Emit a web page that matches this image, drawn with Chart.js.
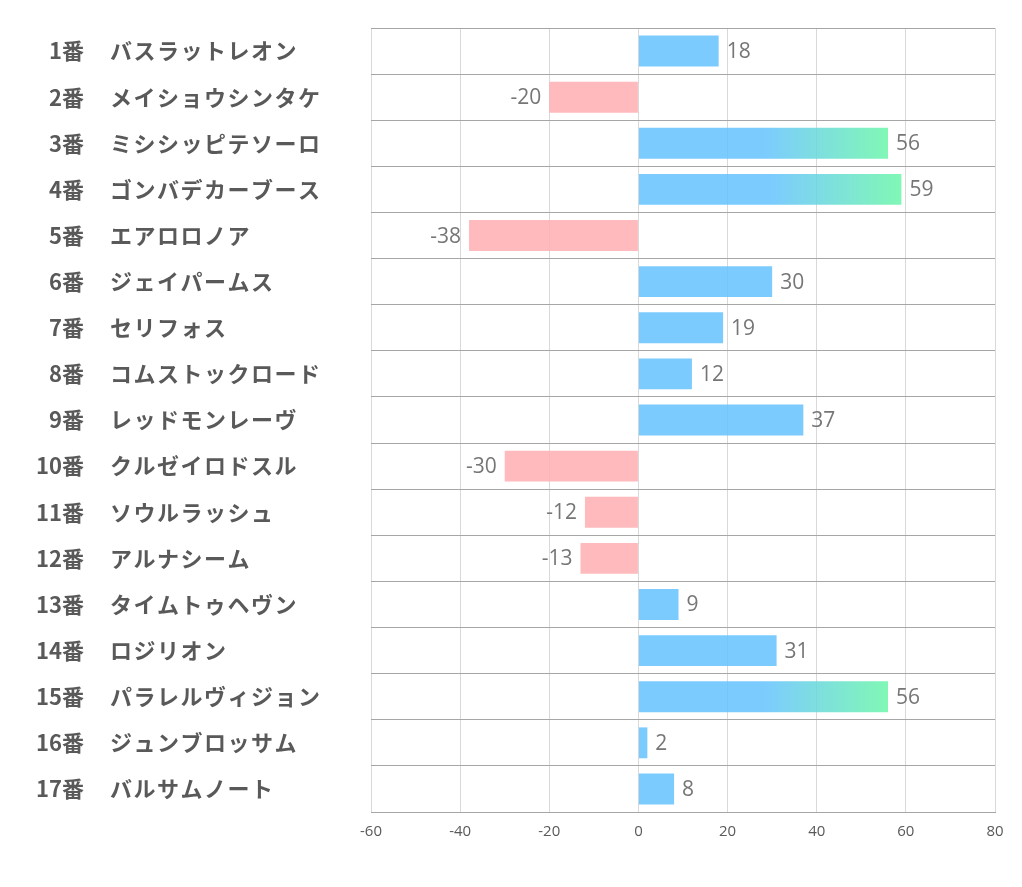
<!DOCTYPE html>
<html lang="ja">
<head>
<meta charset="utf-8">
<title>Horse chart</title>
<script src="https://cdn.jsdelivr.net/npm/chart.js@4/dist/chart.umd.min.js"></script>
<style>
  body { margin: 0; background: #fff; }
  #wrap { width: 1022px; height: 887px; position: relative; }
</style>
</head>
<body>
<div id="wrap"><canvas id="barChart"></canvas></div>
<script>
// --- data ---
const horseNumbers = ['1番', '2番', '3番', '4番', '5番', '6番', '7番', '8番', '9番',
    '10番', '11番', '12番', '13番', '14番', '15番', '16番', '17番'];
const horseNames = ['バスラットレオン', 'メイショウシンタケ', 'ミシシッピテソーロ', 'ゴンバデカーブース',
    'エアロロノア', 'ジェイパームス', 'セリフォス', 'コムストックロード', 'レッドモンレーヴ',
    'クルゼイロドスル', 'ソウルラッシュ', 'アルナシーム', 'タイムトゥヘヴン', 'ロジリオン',
    'パラレルヴィジョン', 'ジュンブロッサム', 'バルサムノート'];
const scores = [18, -20, 56, 59, -38, 30, 19, 12, 37, -30, -12, -13, 9, 31, 56, 2, 8];
const xTicks = [-60, -40, -20, 0, 20, 40, 60, 80];

const BLUE = 'rgba(101, 194, 255, 0.85)';
const PINK = 'rgba(255, 174, 177, 0.85)';
const GREEN = 'rgba(106, 246, 169, 0.85)';
const TEXT_DARK = '#595959';

/**
 * Bar fill: pink for negatives, blue for positives,
 * blue -> green gradient for the high scorers
 */
function barColor(context) {
    const v = context.raw;
    if (v < 0) return PINK;
    if (v < 50) return BLUE;
    const chart = context.chart;
    const xs = chart.scales.x;
    if (!chart.chartArea || !xs) return BLUE;
    const x0 = xs.getPixelForValue(0);
    const x1 = xs.getPixelForValue(v);
    const g = chart.ctx.createLinearGradient(x0, 0, x1, 0);
    g.addColorStop(0, BLUE);
    g.addColorStop(0.5, BLUE);
    g.addColorStop(1, GREEN);
    return g;
}

// draws "N番" + horse name to the left of the plot
const rowLabels = {
    id: 'rowLabels',
    afterDraw(chart) {
        const ctx = chart.ctx;
        const ys = chart.scales.y;
        ctx.save();
        ctx.fillStyle = TEXT_DARK;
        ctx.font = 'bold 22px "Noto Sans CJK JP"';
        ctx.textBaseline = 'middle';
        horseNames.forEach((name, i) => {
            const y = ys.getPixelForValue(i);
            ctx.letterSpacing = '0px';
            ctx.textAlign = 'right';
            ctx.fillText(horseNumbers[i], 84, y);
            ctx.letterSpacing = '1.5px';
            ctx.textAlign = 'left';
            ctx.fillText(name, 110, y);
        });
        ctx.restore();
    }
};

// value next to the end of each bar
const valueLabels = {
    id: 'valueLabels',
    afterDatasetsDraw(chart) {
        const ctx = chart.ctx;
        const meta = chart.getDatasetMeta(0);
        ctx.save();
        ctx.fillStyle = '#767676';
        ctx.font = '21px "Open Sans"';
        ctx.textBaseline = 'middle';
        meta.data.forEach((bar, i) => {
            const v = scores[i];
            if (v < 0) {
                ctx.textAlign = 'right';
                ctx.fillText(String(v), bar.x - 8, bar.y + 1);
            } else {
                ctx.textAlign = 'left';
                ctx.fillText(String(v), bar.x + 8, bar.y + 1);
            }
        });
        ctx.restore();
    }
};

const ctx = document.getElementById('barChart').getContext('2d');
const barChart = new Chart(ctx, {
    type: 'bar',
    data: {
        labels: horseNames,
        datasets: [{
            data: scores,
            backgroundColor: barColor,
            borderWidth: 0,
            categoryPercentage: 1,
            barPercentage: 0.67
        }]
    },
    options: {
        indexAxis: 'y',
        responsive: true,
        maintainAspectRatio: false,
        animation: false,
        layout: { padding: { left: 371, top: 28, right: 27, bottom: 35 } },
        plugins: {
            legend: { display: false },
            tooltip: { enabled: false }
        },
        scales: {
            x: {
                min: -60,
                max: 80,
                afterBuildTicks: function(scale) {
                    scale.ticks = xTicks.map(v => ({ value: v }));
                },
                ticks: {
                    color: TEXT_DARK,
                    font: { family: 'Open Sans', size: 15 },
                    padding: 11
                },
                grid: {
                    color: '#d9d9d9',
                    drawTicks: false
                },
                border: { color: '#a6a6a6' }
            },
            y: {
                ticks: { display: false },
                grid: {
                    offset: true,
                    color: '#a6a6a6',
                    drawTicks: false
                },
                border: { display: false }
            }
        }
    },
    plugins: [rowLabels, valueLabels]
});
</script>
</body>
</html>
